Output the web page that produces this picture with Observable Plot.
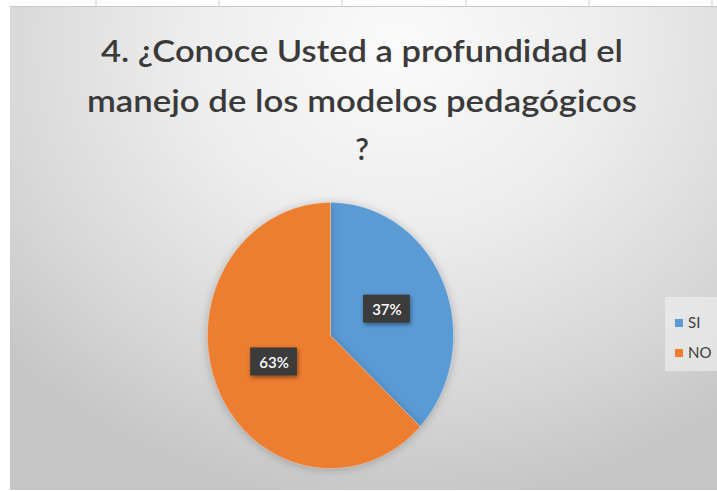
<!DOCTYPE html>
<html><head><meta charset="utf-8">
<script src="https://cdn.jsdelivr.net/npm/d3@7"></script>
<script src="https://cdn.jsdelivr.net/npm/@observablehq/plot@0.6"></script>
<style>
html,body{margin:0;padding:0;background:#fff;}
#chart{position:relative;width:717px;height:491px;overflow:hidden;background:#fff;}
#bg{position:absolute;left:10px;top:6px;width:707px;height:483px;border-top:1px solid #c9c9c9;
  background:radial-gradient(ellipse 75% 95% at 55% 8%, #fbfbfb 0%, #ededed 40%, #d8d8d8 75%, #c6c6c6 100%);}
#chart svg{position:absolute;left:0;top:0;}
</style></head><body><div id="chart"><div id="bg"></div></div>
<script>
const categories = ["SI", "NO"];
const values = [37, 63];
const colors = ["#5B9BD5", "#ED7D31"];
const valueLabels = ["37%", "63%"];
const titleLines = ["4. ¿Conoce Usted a profundidad el", "manejo de los modelos pedagógicos", "?"];

const rows = categories.map((c, i) => ({category: c, value: values[i], label: valueLabels[i]}));
const arcs = d3.pie().sort(null).value(d => d.value)(rows);

// slice outlines (in unit-circle space, angle 0 at 12 o'clock, clockwise)
const slicePts = [];
for (const s of arcs) {
  slicePts.push({category: s.data.category, x: 0, y: 0});
  const n = 160;
  for (let k = 0; k <= n; k++) {
    const a = s.startAngle + (s.endAngle - s.startAngle) * k / n;
    slicePts.push({category: s.data.category, x: Math.sin(a), y: Math.cos(a)});
  }
  slicePts.push({category: s.data.category, x: 0, y: 0});
}
const labelPts = arcs.map(s => {
  const a = (s.startAngle + s.endAngle) / 2;
  return {label: s.data.label, x: 0.5 * Math.sin(a), y: 0.5 * Math.cos(a)};
});

const bw = 0.19, bh = 0.105; // label box half-size in unit space

const plot = Plot.plot({
  width: 717, height: 491,
  marginLeft: 207, marginRight: 264, marginTop: 202, marginBottom: 23,
  x: {domain: [-1, 1], axis: null},
  y: {domain: [-1, 1], axis: null},
  color: {domain: categories, range: colors},
  style: {background: "transparent", overflow: "visible"},
  marks: [
    Plot.line(slicePts, {x: "x", y: "y", z: "category", fill: "category", stroke: "#ffffff", strokeOpacity: 0.35, strokeWidth: 0.8}),
    Plot.rect(labelPts, {x1: d => d.x - bw, x2: d => d.x + bw, y1: d => d.y - bh, y2: d => d.y + bh, fill: "#3b3b3b"}),
    Plot.text(labelPts, {x: "x", y: "y", text: "label", fill: "white", fontSize: 15, fontFamily: "Lato, sans-serif", fontWeight: 600, dy: 1})
  ]
});
document.getElementById("chart").appendChild(plot);

const svg = d3.select(plot);
// shadows
svg.selectAll("rect").style("filter", "drop-shadow(1px 2px 2px rgba(0,0,0,0.45))");
svg.selectAll("path").style("filter", "drop-shadow(0px 1px 4px rgba(0,0,0,0.22))");

// title
const titleY = [62, 112, 160];
const titleLen = [522, 550, null];
const tg = svg.append("g").attr("font-family", "Lato, sans-serif").attr("font-weight", 600)
  .attr("font-size", 30).attr("fill", "#3a3a3a").attr("text-anchor", "middle");
titleLines.forEach((t, i) => {
  const el = tg.append("text").attr("x", 362).attr("y", titleY[i]).text(t);
  if (titleLen[i]) el.attr("textLength", titleLen[i]).attr("lengthAdjust", "spacingAndGlyphs");
});

// legend
const lg = svg.append("g").attr("text-anchor", "start");
lg.append("rect").attr("x", 665).attr("y", 297).attr("width", 60).attr("height", 74).attr("fill", "#f2f2f2").attr("fill-opacity", 0.6);
const colorScale = plot.scale("color");
categories.forEach((c, i) => {
  const y = 323 + i * 30;
  lg.append("rect").attr("x", 675).attr("y", y - 4).attr("width", 8).attr("height", 8).attr("fill", colorScale.apply(c));
  lg.append("text").attr("x", 688).attr("y", y + 5).attr("font-family", "Lato, sans-serif").attr("font-size", 15)
    .attr("fill", "#404040").text(c);
});

// spreadsheet gridline ticks at top
const gridTicks = svg.append("g").attr("stroke", "#cfcfcf");
[96, 219, 342, 466, 589, 712].forEach(x => gridTicks.append("line").attr("x1", x).attr("x2", x).attr("y1", 0).attr("y2", 6));
</script>
</body></html>
